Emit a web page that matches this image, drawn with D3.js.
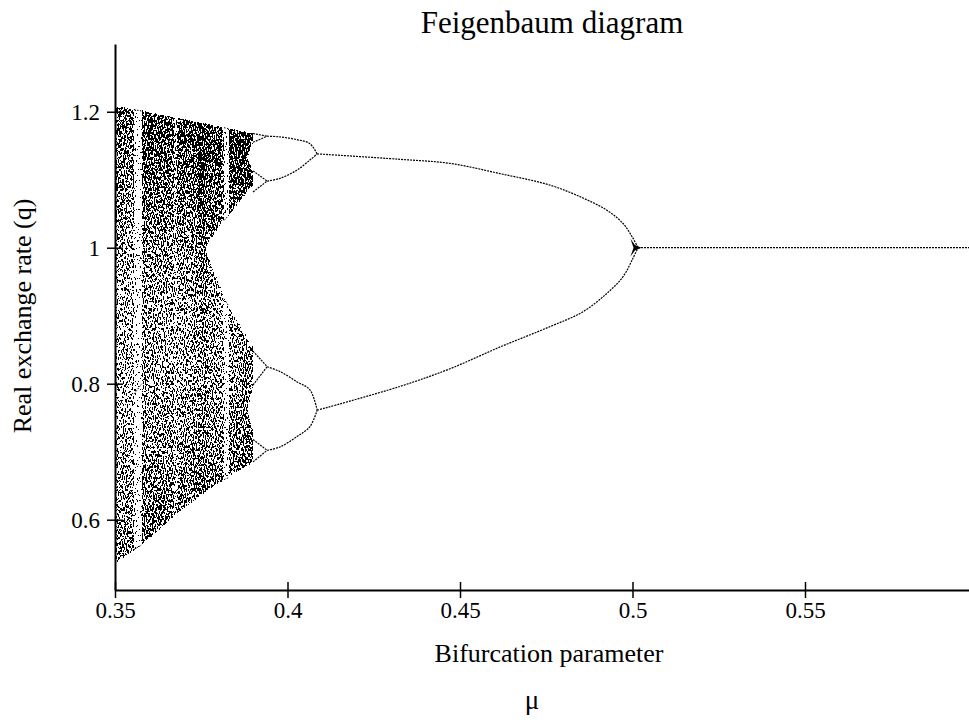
<!DOCTYPE html>
<html>
<head>
<meta charset="utf-8">
<script src="https://cdn.jsdelivr.net/npm/d3@7"></script>
<style>
  body { margin: 0; background: #fff; }
  svg { display: block; font-family: "Liberation Serif", "Times New Roman", serif; }
</style>
</head>
<body>
<div class="canvas"></div>
<script>
// ---- data ----
const xTicks = [0.35, 0.4, 0.45, 0.5, 0.55]
const xTickLabels = ['0.35', '0.4', '0.45', '0.5', '0.55']
const yTicks = [0.6, 0.8, 1, 1.2]
const yTickLabels = ['0.6', '0.8', '1', '1.2']

// outer envelope of the chaotic band
const envMu     = [0.3500, 0.3582, 0.3679, 0.3775, 0.3824, 0.3862, 0.3900]
const envTop    = [1.208, 1.201, 1.191, 1.181, 1.176, 1.172, 1.168]
const envBottom = [0.536, 0.565, 0.609, 0.646, 0.661, 0.673, 0.685]

// inner edges once the band splits in two
const innerMu    = [0.3761, 0.3790, 0.3828, 0.3862, 0.3891, 0.3900]
const innerUpper = [0.999, 1.022, 1.048, 1.068, 1.089, 1.093]
const innerLower = [0.999, 0.960, 0.914, 0.886, 0.860, 0.852]

// four-band split just before the period-8 orbit
const splitMu        = [0.3884, 0.3900]
const upperGapTop    = [1.134, 1.157]
const upperGapBottom = [1.134, 1.111]
const lowerGapTop    = [0.763, 0.795]
const lowerGapBottom = [0.763, 0.730]

// how dark each vertical strip of the chaotic band is (windows are near white)
const colEdges   = [0.3500, 0.3520, 0.3540, 0.3555, 0.3578, 0.3600, 0.3620, 0.3640, 0.3660, 0.3672, 0.3680,
                    0.3700, 0.3720, 0.3740, 0.3768, 0.3790, 0.3810, 0.3816, 0.3830, 0.3850, 0.3870, 0.3900]
const colDensity = [0.6, 0.6, 0.6, 0.04, 0.75, 0.7, 0.7, 0.7, 0.7, 0.4, 0.7,
                    0.7, 0.75, 0.85, 0.75, 0.75, 0.65, 0.05, 0.8, 0.85, 0.9]

// darkness against q (edges of the band are denser)
const profileQ   = [1.21, 1.15, 1.05, 1.0, 0.9, 0.8, 0.7, 0.6, 0.53]
const profileVal = [1.0, 0.9, 0.75, 0.65, 0.55, 0.55, 0.65, 0.8, 0.9]

// periodic windows inside the chaos
const window1Mu = [0.3555, 0.3578]
const window1Q  = [[1.203, 1.201], [0.785, 0.800], [0.556, 0.563]]
const window2Mu = [0.3816, 0.3830]
const window2Q  = [[1.1765, 1.175], [1.040, 1.048], [0.925, 0.914], [0.659, 0.662]]

// stable orbits
const p1Mu = [0.5016, 0.6]
const p1Q  = [1.0, 1.0]
const p2Mu    = [0.4086, 0.4326, 0.4471, 0.4616, 0.4761, 0.4857, 0.4926, 0.4972, 0.4999, 0.5016]
const p2Upper = [1.138, 1.130, 1.124, 1.109, 1.092, 1.073, 1.055, 1.036, 1.016, 1.000]
const p2Lower = [0.761, 0.796, 0.822, 0.854, 0.884, 0.906, 0.933, 0.957, 0.982, 1.000]
const p4Mu = [0.3941, 0.3978, 0.4027, 0.4065, 0.4086]
const p4A  = [1.164, 1.163, 1.159, 1.153, 1.138]
const p4B  = [1.098, 1.102, 1.114, 1.129, 1.138]
const p4C  = [0.825, 0.818, 0.803, 0.791, 0.761]
const p4D  = [0.702, 0.707, 0.722, 0.737, 0.761]
const p8Mu = [0.3900, 0.3941]
const p8   = [[1.168, 1.164], [1.155, 1.164], [1.113, 1.098], [1.082, 1.098],
              [0.848, 0.825], [0.798, 0.825], [0.718, 0.702], [0.685, 0.702]]

// slow-convergence blob at the first flip
const blobMu = [0.4994, 0.5007, 0.5026, 0.5007, 0.4994, 0.5003]
const blobQ  = [1.013, 1.004, 1.000, 0.996, 0.987, 1.000]

// ---- drawing ----
const font = '"Liberation Serif", "Times New Roman", serif'
const svg = d3.select('.canvas').append('svg')
    .attr('width', 969)
    .attr('height', 720)

const x = d3.scaleLinear().domain([0.35, 0.6]).range([115, 977.5])
const y = d3.scaleLinear().domain([0.4966, 1.2996]).range([590, 44])

const defs = svg.append('defs')

// vertical profile gradient
const gy1 = y(profileQ[0]), gy2 = y(profileQ[profileQ.length - 1])
defs.append('linearGradient')
    .attr('id', 'profile')
    .attr('gradientUnits', 'userSpaceOnUse')
    .attr('x1', 0).attr('x2', 0).attr('y1', gy1).attr('y2', gy2)
  .selectAll('stop').data(profileQ).join('stop')
    .attr('offset', d => (y(d) - gy1) / (gy2 - gy1))
    .attr('stop-color', '#000')
    .attr('stop-opacity', (d, i) => profileVal[i])

// column densities as a mask
defs.append('mask')
    .attr('id', 'cols')
    .attr('maskUnits', 'userSpaceOnUse')
    .attr('x', 0).attr('y', 0).attr('width', 969).attr('height', 720)
  .selectAll('rect').data(colDensity).join('rect')
    .attr('x', (d, i) => x(colEdges[i]))
    .attr('width', (d, i) => x(colEdges[i + 1]) - x(colEdges[i]))
    .attr('y', 0)
    .attr('height', 720)
    .attr('fill', '#fff')
    .attr('fill-opacity', d => d)
    .attr('shape-rendering', 'crispEdges')

// speckle: gray level -> scattered 1px dots
const f = defs.append('filter')
    .attr('id', 'speckle')
    .attr('filterUnits', 'userSpaceOnUse')
    .attr('x', 105).attr('y', 90).attr('width', 170).attr('height', 490)
    .attr('color-interpolation-filters', 'sRGB')
f.append('feTurbulence')
    .attr('type', 'fractalNoise')
    .attr('baseFrequency', '0.9 0.35')
    .attr('numOctaves', 2)
    .attr('seed', 7)
    .attr('result', 't')
f.append('feColorMatrix')
    .attr('in', 't')
    .attr('type', 'matrix')
    .attr('values', '0 0 0 0 0  0 0 0 0 0  0 0 0 0 0  1 0 0 0 0')
    .attr('result', 'n0')
f.append('feComponentTransfer')
    .attr('in', 'n0')
    .attr('result', 'n')
  .append('feFuncA')
    .attr('type', 'linear').attr('slope', 3).attr('intercept', -1)
f.append('feComposite')
    .attr('in', 'SourceGraphic')
    .attr('in2', 'n')
    .attr('operator', 'arithmetic')
    .attr('k1', 0).attr('k2', 1).attr('k3', -1).attr('k4', 0.49)
    .attr('result', 'c')
const ct = f.append('feComponentTransfer').attr('in', 'c')
ct.append('feFuncR').attr('type', 'linear').attr('slope', 0).attr('intercept', 0)
ct.append('feFuncG').attr('type', 'linear').attr('slope', 0).attr('intercept', 0)
ct.append('feFuncB').attr('type', 'linear').attr('slope', 0).attr('intercept', 0)
ct.append('feFuncA').attr('type', 'discrete').attr('tableValues', '0 1')

// chaotic band
const pt = d3.line().x(d => x(d[0])).y(d => y(d[1]))
const ring = (mus, top, bottom) =>
    pt(mus.map((m, i) => [m, top[i]]).concat(mus.map((m, i) => [m, bottom[i]]).reverse())) + 'Z'

svg.append('g')
    .attr('filter', 'url(#speckle)')
  .append('g')
    .attr('mask', 'url(#cols)')
  .append('path')
    .attr('d', ring(envMu, envTop, envBottom) + ring(innerMu, innerUpper, innerLower)
        + ring(splitMu, upperGapTop, upperGapBottom) + ring(splitMu, lowerGapTop, lowerGapBottom))
    .attr('fill', 'url(#profile)')
    .attr('fill-rule', 'evenodd')

// window orbits
const seg = d3.line().x(d => x(d[0])).y(d => y(d[1]))
const windowSegs = window1Q.map(q => [[window1Mu[0], q[0]], [window1Mu[1], q[1]]])
    .concat(window2Q.map(q => [[window2Mu[0], q[0]], [window2Mu[1], q[1]]]))
svg.append('g').selectAll('path').data(windowSegs).join('path')
    .attr('d', seg)
    .attr('fill', 'none')
    .attr('stroke', '#000')
    .attr('stroke-width', 1)
    .attr('stroke-dasharray', '1.5 1.5')

// stable branches
const branch = d3.line().x(d => x(d[0])).y(d => y(d[1])).curve(d3.curveCatmullRom)
const zip = (mus, qs) => mus.map((m, i) => [m, qs[i]])
const branches = [
    zip(p1Mu, p1Q),
    zip(p2Mu, p2Upper), zip(p2Mu, p2Lower),
    zip(p4Mu, p4A), zip(p4Mu, p4B), zip(p4Mu, p4C), zip(p4Mu, p4D)
].concat(p8.map(q => zip(p8Mu, q)))

svg.append('g').selectAll('path').data(branches).join('path')
    .attr('d', branch)
    .attr('fill', 'none')
    .attr('stroke', '#000')
    .attr('stroke-width', 1.2)
    .attr('stroke-dasharray', '2 1')

svg.append('path')
    .attr('d', pt(zip(blobMu, blobQ)) + 'Z')
    .attr('fill', '#000')

// axes
const xAxis = svg.append('g')
    .attr('transform', 'translate(0,590)')
    .call(d3.axisBottom(x).tickValues(xTicks).tickFormat((d, i) => xTickLabels[i])
        .tickSize(8).tickSizeOuter(0).tickPadding(4))
xAxis.selectAll('.tick line').attr('y1', -8).attr('y2', 8).attr('stroke-width', 1.5)

const yAxis = svg.append('g')
    .attr('transform', 'translate(115,0)')
    .call(d3.axisLeft(y).tickValues(yTicks).tickFormat((d, i) => yTickLabels[i])
        .tickSize(8).tickSizeOuter(0).tickPadding(7))
yAxis.selectAll('.tick line').attr('x1', 8).attr('x2', -8).attr('stroke-width', 1.5)

for (const a of [xAxis, yAxis]) {
    a.attr('font-family', font).attr('font-size', 23)
    a.select('.domain').attr('stroke-width', 2)
    a.selectAll('.tick text').attr('fill', '#000')
}

// labels
svg.append('text')
    .attr('x', 552).attr('y', 33)
    .attr('text-anchor', 'middle')
    .attr('font-size', 31)
    .text('Feigenbaum diagram')

svg.append('text')
    .attr('x', 549).attr('y', 662)
    .attr('text-anchor', 'middle')
    .attr('font-size', 26)
    .text('Bifurcation parameter')

svg.append('text')
    .attr('x', 532).attr('y', 709)
    .attr('text-anchor', 'middle')
    .attr('font-size', 27)
    .text('μ')

svg.append('text')
    .attr('transform', 'translate(31,316) rotate(-90)')
    .attr('text-anchor', 'middle')
    .attr('font-size', 26)
    .text('Real exchange rate (q)')
</script>
</body>
</html>
